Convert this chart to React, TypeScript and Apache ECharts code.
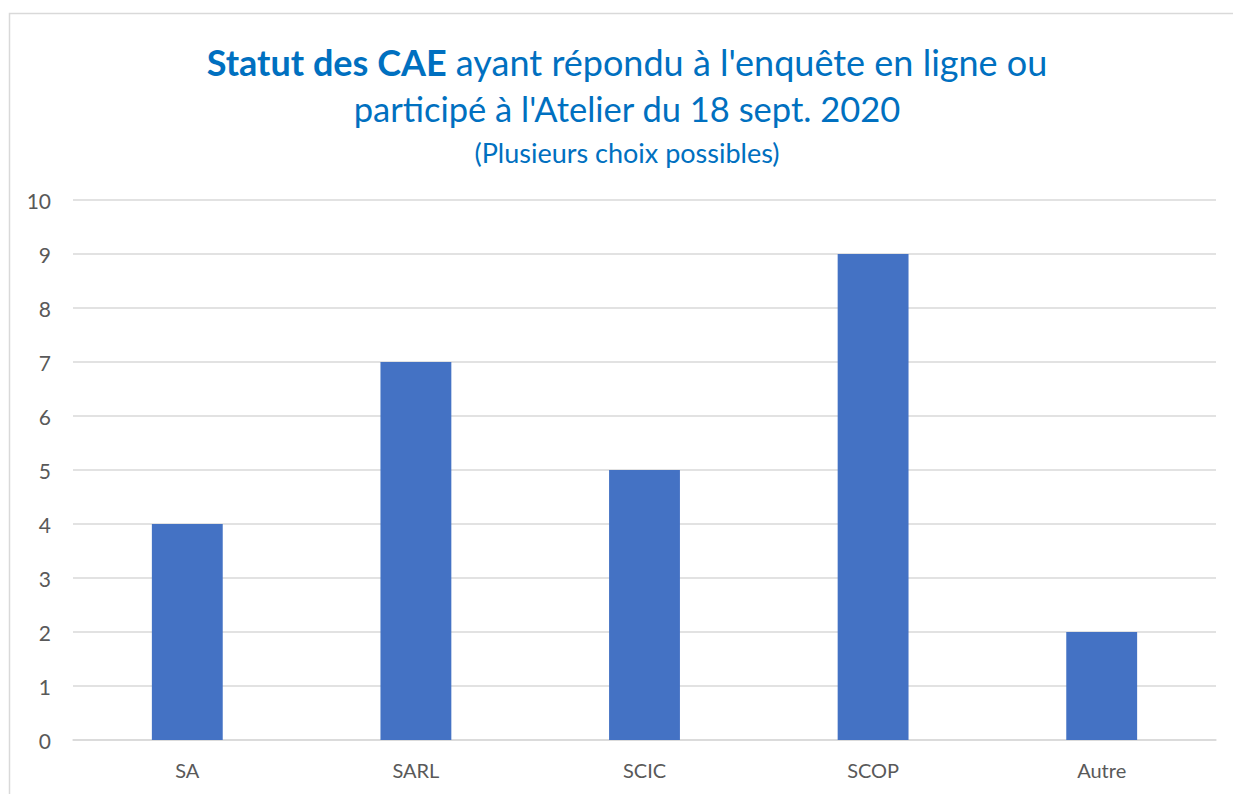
import React, { useEffect, useRef } from "react";
import * as echarts from "echarts";

const categories = ["SA", "SARL", "SCIC", "SCOP", "Autre"];
const values = [4, 7, 5, 9, 2];
const yMin = 0;
const yMax = 10;
const yInterval = 1;

const titleBold = "Statut des CAE";
const titleRest1 = " ayant répondu à l'enquête en ligne ou";
const titleLine2 = "participé à l'Atelier du 18 sept. 2020";
const subtitle = "(Plusieurs choix possibles)";

const FONT = "Lato, 'Open Sans', sans-serif";

export default function App() {
  const ref = useRef<HTMLDivElement>(null);
  useEffect(() => {
    if (!ref.current) return;
    const chart = echarts.init(ref.current, null, { renderer: "svg" });
    chart.setOption({
      animation: false,
      backgroundColor: "#ffffff",
      textStyle: { fontFamily: FONT },
      graphic: [
        {
          type: "rect",
          shape: { x: 9.5, y: 13.5, width: 1400, height: 1000 },
          style: { fill: "none", stroke: "#D9D9D9", lineWidth: 1.5 },
          silent: true,
          z: -10,
        },
        {
          type: "text",
          x: 627,
          y: 62,
          style: {
            text: `{b|${titleBold}}{n|${titleRest1}}`,
            align: "center",
            verticalAlign: "middle",
            rich: {
              b: { fontFamily: FONT, fontSize: 36, fontWeight: "bold", fill: "#0070C0" },
              n: { fontFamily: FONT, fontSize: 36, fill: "#0070C0" },
            },
          },
        },
        {
          type: "text",
          x: 627,
          y: 108,
          style: {
            text: titleLine2,
            align: "center",
            verticalAlign: "middle",
            fontFamily: FONT,
            fontSize: 34.5,
            fill: "#0070C0",
          },
        },
        {
          type: "text",
          x: 627,
          y: 152,
          style: {
            text: subtitle,
            align: "center",
            verticalAlign: "middle",
            fontFamily: FONT,
            fontSize: 27,
            fill: "#0070C0",
          },
        },
      ],
      grid: { left: 73, right: 17, top: 200, bottom: 54, containLabel: false },
      xAxis: {
        type: "category",
        data: categories,
        axisLine: { show: true, lineStyle: { color: "#D9D9D9", width: 1.5 } },
        axisTick: { show: false },
        axisLabel: { color: "#595959", fontSize: 20, margin: 20, fontFamily: FONT },
      },
      yAxis: {
        type: "value",
        min: yMin,
        max: yMax,
        interval: yInterval,
        axisLine: { show: false },
        axisTick: { show: false },
        axisLabel: { color: "#595959", fontSize: 21, margin: 22, fontFamily: FONT },
        splitLine: { lineStyle: { color: "#D9D9D9", width: 1.5 } },
      },
      series: [
        {
          type: "bar",
          data: values,
          barWidth: "31%",
          itemStyle: { color: "#4472C4" },
        },
      ],
    });
    return () => chart.dispose();
  }, []);
  return (
    <div
      ref={ref}
      style={{ position: "fixed", left: 0, top: 0, width: 1233, height: 794 }}
    />
  );
}
